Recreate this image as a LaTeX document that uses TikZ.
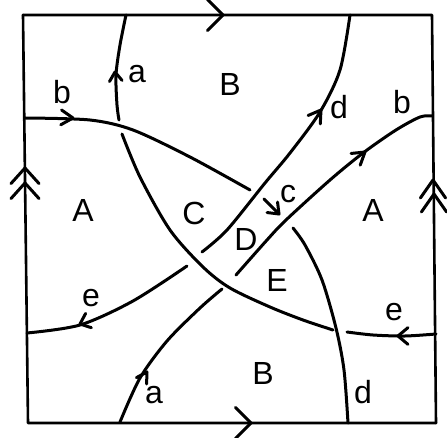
\documentclass[tikz,border=0pt]{standalone}
\usepackage{fontspec}
\setmainfont{Liberation Sans}
\newcommand\chev[5]{\draw[curve] (#1,#2) ++({#3+180+#4}:#5) -- (#1,#2) -- ++({#3+180-#4}:#5);}
\begin{document}
\begin{tikzpicture}[x=1pt,y=-1pt,
  curve/.style={line width=3pt,line cap=round,line join=round},
  edge/.style={line width=2.6pt,line cap=round,line join=round},
  lab/.style={font=\fontsize{32}{36}\selectfont,inner sep=0pt}]
\useasboundingbox (0,0) rectangle (447,438);
% square
\coordinate (TL) at (23,15);
\coordinate (TR) at (432,15);
\coordinate (BL) at (28,423);
\coordinate (BR) at (436,423);
\draw[edge] (TL) -- (TR) -- (BR);
\draw[edge] (TL) -- (BL) -- (BR);
\chev{223}{15}{0}{45}{22}
\chev{251}{423}{0}{45}{22}
\chev{25}{168}{-90}{42}{21}
\chev{25}{183}{-90}{42}{21}
\chev{433}{180}{-90}{35}{22}
\chev{434}{194}{-90}{35}{22}
% curve a (top) + e (right)
\draw[curve] plot[smooth] coordinates {(126,15) (120,45) (116,75) (117,105) (119,120)};
\draw[curve] plot[smooth] coordinates {(122,134) (140,177) (170,230) (203,267) (230,288) (270,307) (303,320) (333,330)};
\draw[curve] plot[smooth] coordinates {(347,332) (373,335) (405,336) (436,334)};
\chev{115}{72}{-95}{35}{11}
\chev{398}{336}{180}{40}{13}
% curve b (left) -> c -> d (bottom)
\draw[curve] plot[smooth] coordinates {(25,118) (90,120) (133,130) (190,157) (250,190)};
\draw[curve] (264,199) -- (279,214);
\chev{279}{214}{45}{38}{12}
\draw[curve] plot[smooth] coordinates {(293,228) (305,245) (322,280) (336,328) (344,370) (348,423)};
\chev{73}{118}{3}{32}{14}
% curve e (left) + d (top)
\draw[curve] plot[smooth] coordinates {(27,333) (80,325) (133,301) (187,266)};
\draw[curve] plot[smooth] coordinates {(202,252) (227,230) (265,183) (290,153) (320,112) (340,70) (350,15)};
\chev{80}{324}{158}{40}{12}
\chev{321}{110}{-55}{32}{14}
% curve a (bottom) + b (right)
\draw[curve] plot[smooth] coordinates {(120,422) (140,378) (167,341) (200,308) (222,289)};
\draw[curve] plot[smooth] coordinates {(236,275) (267,240) (286,220) (330,180) (363,153) (396,130) (420,117) (432,116)};
\chev{147}{372}{-58}{30}{12}
\chev{365}{152}{-38}{32}{14}
% labels
\node[lab] (la1) at (137,74) {a};
\node[lab] (lb1) at (62,92) {b};
\node[lab] (lB1) at (230,84) {B};
\node[lab] (ld1) at (339,107) {d};
\node[lab] (lb2) at (402,102) {b};
\node[lab] (lc) at (288,194) {c};
\node[lab] (lA1) at (83,210) {A};
\node[lab] (lA2) at (373,210) {A};
\node[lab] (lC) at (194,213) {C};
\node[lab] (lD) at (246,239) {D};
\node[lab] (lE) at (277,280) {E};
\node[lab] (le1) at (91,298) {e};
\node[lab] (le2) at (394,312) {e};
\node[lab] (la2) at (154,395) {a};
\node[lab] (lB2) at (263,373) {B};
\node[lab] (ld2) at (363,392) {d};
\end{tikzpicture}
\end{document}
